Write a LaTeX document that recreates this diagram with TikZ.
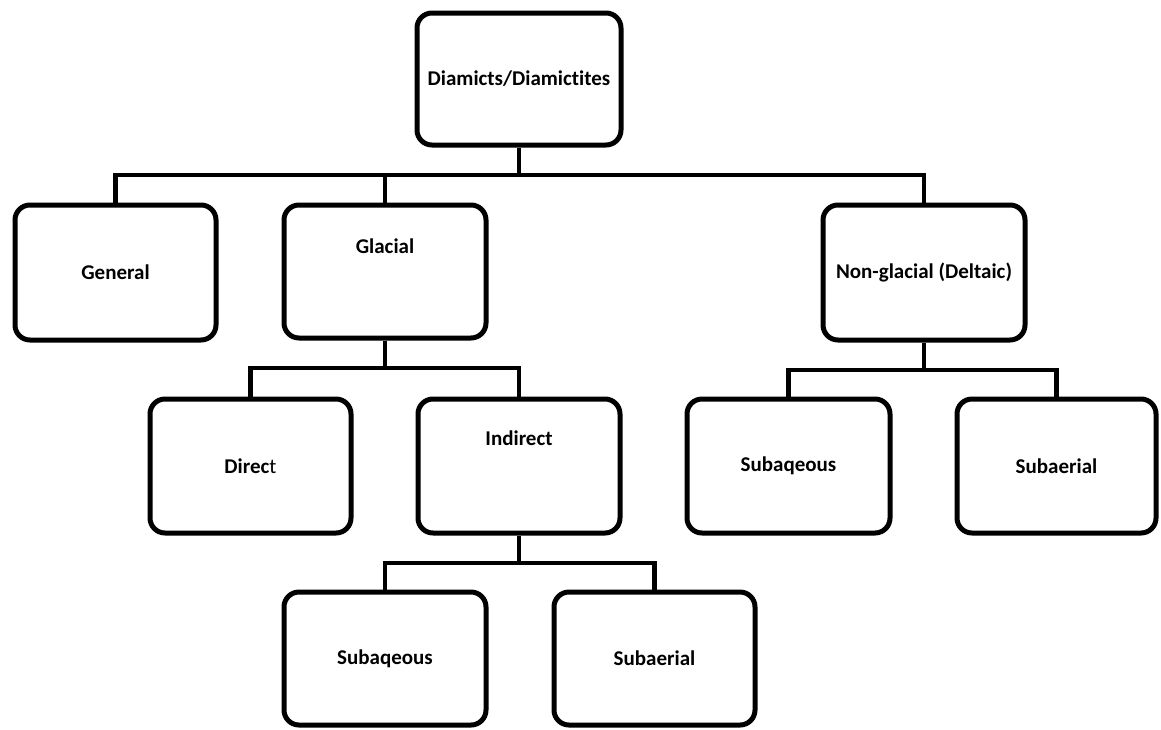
\documentclass[tikz,border=0pt]{standalone}
\usepackage{fontspec}
\setmainfont[Ligatures={NoCommon}]{Carlito}
\begin{document}
\begin{tikzpicture}[x=1pt,y=-1pt,
  box/.style={draw=black, line width=5pt, rounded corners=15pt, minimum width=202pt, minimum height=134pt, inner sep=0pt, font=\fontsize{21}{25}\selectfont\bfseries, align=center},
  lbl/.style={font=\fontsize{21}{25}\selectfont\bfseries, anchor=center, inner sep=0pt},
  conn/.style={draw=black, line width=4.5pt}]
\useasboundingbox (0,0) rectangle (1161,729);
\node[box, minimum width=204pt, minimum height=132pt] (root) at (519,79) {Diamicts/Diamictites};
\node[box, minimum width=201pt, minimum height=135pt] (gen) at (115.5,272.5) {General};
\node[box, minimum height=133pt, label={[lbl,yshift=-44pt]north:Glacial}] (gla) at (385,271.5) {};
\node[box, minimum height=135pt] (non) at (924,272.5) {Non-glacial (Deltaic)};
\node[box, minimum width=201pt] (dir) at (250.5,466) {Direc{\mdseries t}};
\node[box, label={[lbl,yshift=-42pt]north:Indirect}] (ind) at (519,466) {};
\node[box, minimum height=133pt] (sq1) at (385,658.5) {Subaqeous};
\node[box, minimum width=201pt, minimum height=133pt] (sa1) at (654.5,658.5) {Subaerial};
\node[box, minimum width=203pt] (sq2) at (788.5,466) {Subaqeous};
\node[box, minimum width=199pt] (sa2) at (1056.5,466) {Subaerial};
% bus coordinates
\coordinate (b1) at (519,175);
\coordinate (b2) at (385,368);
\coordinate (b3) at (924,370);
\coordinate (b4) at (519,563);
\draw[conn] (root.south) -- (b1);
\draw[conn] (gen.north) |- (b1) -| (non.north);
\draw[conn] (gla.north) -- (gla.north |- b1);
\draw[conn] (gla.south) -- (b2);
\draw[conn] (dir.north) |- (b2) -| (ind.north);
\draw[conn] (non.south) -- (b3);
\draw[conn] (sq2.north) |- (b3) -| (sa2.north);
\draw[conn] (ind.south) -- (b4);
\draw[conn] (sq1.north) |- (b4) -| (sa1.north);
\end{tikzpicture}
\end{document}
